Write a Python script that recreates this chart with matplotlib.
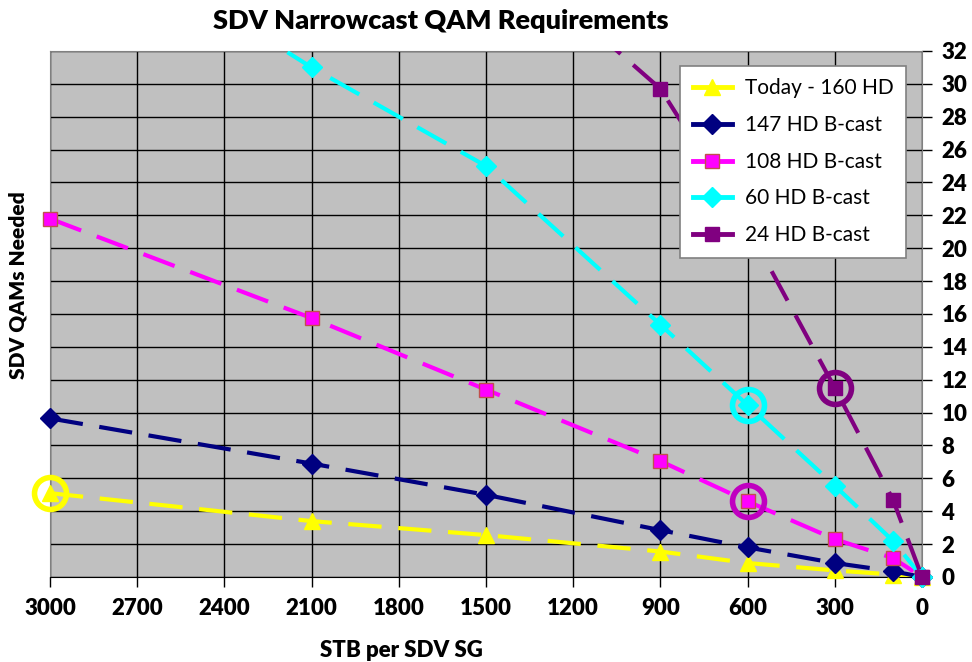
import numpy as np
import matplotlib.pyplot as plt
from matplotlib.lines import Line2D

plt.rcParams['font.family'] = ['Lato', 'DejaVu Sans']

# STB per SDV service group
stb = [3000, 2100, 1500, 900, 600, 300, 100, 0]

# QAMs needed per scenario (values above 32 run off the top of the chart)
today_160 = [5.1, 3.4, 2.55, 1.55, 0.85, 0.4, 0.15, 0]
hd_147 = [9.65, 6.9, 5.0, 2.85, 1.8, 0.85, 0.35, 0]
hd_108 = [21.8, 15.75, 11.4, 7.05, 4.6, 2.3, 1.15, 0]
hd_60 = [41.0, 31.0, 25.0, 15.35, 10.45, 5.55, 2.2, 0]
hd_24 = [57.0, 47.0, 39.0, 29.7, 21.3, 11.5, 4.7, 0]

series = [
    ("Today - 160 HD", today_160, "#FFFF00", "^", "#FFFF00"),
    ("147 HD B-cast", hd_147, "#000080", "D", "#000080"),
    ("108 HD B-cast", hd_108, "#FF00FF", "s", "#C0504D"),
    ("60 HD B-cast", hd_60, "#00FFFF", "D", "#00FFFF"),
    ("24 HD B-cast", hd_24, "#800080", "s", "#800080"),
]

# highlighted points (circled)
circle_x = [3000, 600, 600, 300]
circle_y = [5.1, 10.45, 4.6, 11.5]
circle_c = ["#FFFF00", "#00FFFF", "#C000C0", "#800080"]

fig = plt.figure(figsize=(9.72, 6.62), dpi=100)
ax = fig.add_axes([0.0514, 0.1284, 0.8972, 0.7946])
ax.set_facecolor("#C0C0C0")

handles = []
for i, (name, vals, col, mk, ec) in enumerate(series):
    x = np.array(stb, dtype=float)
    y = np.array(vals, dtype=float)
    ax.plot(x, y, color=col, lw=3, dashes=(8, 4), zorder=3 + i)
    keep = y <= 32
    ms = 12 if mk == "^" else (10 if mk == "D" else 9.5)
    ax.plot(x[keep], y[keep], ls="none", marker=mk, ms=ms, color=col,
            markeredgecolor=ec, markeredgewidth=1, clip_on=False, zorder=3 + i)
    handles.append(Line2D([], [], color=col, lw=3.5, marker=mk, ms=ms,
                          markeredgecolor=ec, markeredgewidth=1))

for cx, cy, cc in zip(circle_x, circle_y, circle_c):
    ax.plot(cx, cy, marker="o", ms=23, mfc="none", mec=cc, mew=4,
            clip_on=False, zorder=10)

ax.set_xlim(3000, 0)
ax.set_ylim(0, 32)
ax.set_xticks(np.arange(0, 3001, 300))
ax.set_yticks(np.arange(0, 33, 2))
ax.yaxis.tick_right()
ax.grid(True, color="black", lw=1, zorder=1)
ax.set_axisbelow(True)
ax.tick_params(axis="both", direction="out", length=7, width=1, labelsize=16,
               color="black")
ax.tick_params(axis="y", pad=7)
ax.tick_params(axis="x", pad=8)
for lab in ax.get_xticklabels() + ax.get_yticklabels():
    lab.set_fontweight("heavy")

for side in ["left", "top", "right"]:
    ax.spines[side].set_color("#808080")
ax.spines["bottom"].set_color("black")

leg = ax.legend(handles, [s[0] for s in series], loc="upper left",
                bbox_to_anchor=(0.7225, 0.9715), borderaxespad=0, fontsize=15,
                frameon=True, fancybox=False, edgecolor="#808080", framealpha=1,
                handlelength=1.9, handletextpad=0.6, labelspacing=0.8,
                borderpad=0.6)
leg.get_frame().set_linewidth(1.2)
leg.set_zorder(20)

fig.text(0.453, 0.968, "SDV Narrowcast QAM Requirements", ha="center", va="center",
         fontsize=19.5, fontweight="heavy")
fig.text(0.413, 0.018, "STB per SDV SG", ha="center", va="center",
         fontsize=16, fontweight="heavy")
fig.text(0.019, 0.57, "SDV QAMs Needed", ha="center", va="center",
         rotation=90, fontsize=15, fontweight="heavy")

fig.savefig("out.png", dpi=100)
